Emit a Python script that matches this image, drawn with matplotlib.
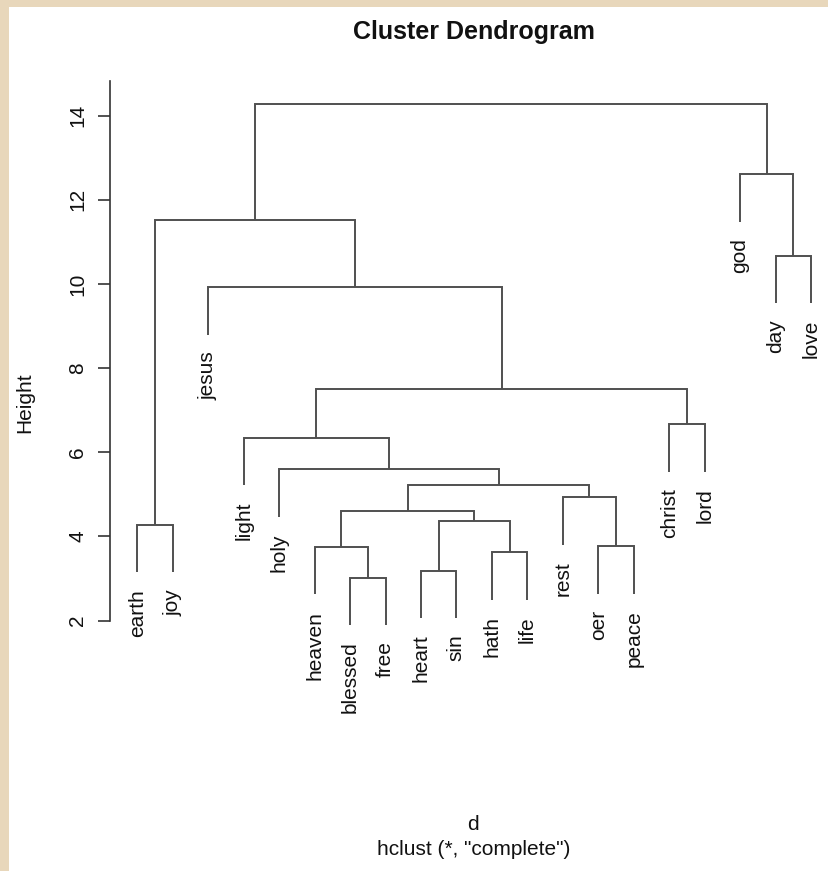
import matplotlib
matplotlib.use("Agg")
import matplotlib.pyplot as plt
from matplotlib.patches import Rectangle
from matplotlib.transforms import offset_copy

# ---- data ----
labels = ["earth", "joy", "jesus", "light", "holy", "heaven", "blessed", "free",
          "heart", "sin", "hath", "life", "rest", "oer", "peace", "christ",
          "lord", "god", "day", "love"]
# R-style merge matrix: negative = leaf (1-based position in labels), positive = earlier merge step
merge_left = [-7, -9, -11, -6, -14, -1, 2, 4, -13, 8, -5, -4, -16, 12, -3, -19, 6, -18, 17]
merge_right = [-8, -10, -12, 1, -15, -2, 3, 7, 5, 9, 10, 11, -17, 13, 14, -20, 15, 16, 18]
heights = [3.02, 3.18, 3.62, 3.75, 3.76, 4.27, 4.37, 4.60, 4.93, 5.22, 5.59, 6.34,
           6.66, 7.51, 9.92, 10.67, 11.52, 12.60, 14.27]
hang = 0.1
yticks = [2, 4, 6, 8, 10, 12, 14]

title = "Cluster Dendrogram"
xlab = "d"
sublab = 'hclust (*, "complete")'
ylab = "Height"

# ---- figure ----
W, H = 829, 871
plt.rcParams["font.family"] = ["Liberation Sans", "DejaVu Sans"]
fig = plt.figure(figsize=(W / 100, H / 100), dpi=100)
fig.patch.set_facecolor("#E8D7BB")
fig.add_artist(Rectangle((9 / W, 0), 1 - 9 / W, 1 - 7 / H, transform=fig.transFigure,
                         facecolor="white", edgecolor="none", zorder=0))

# pixel layout of the plot region
left_px, right_px = 110.35, 837.95
top_px, bottom_px = 81.5, 723.5
ax = fig.add_axes([left_px / W, 1 - bottom_px / H, (right_px - left_px) / W,
                   (bottom_px - top_px) / H])
ax.patch.set_alpha(0)
ax.set_xlim(0.24, 20.76)
ax.set_ylim(2 - (bottom_px - 620.5) / 42.08, 2 + (620.5 - top_px) / 42.08)

hang_len = hang * (max(heights) - min(heights))
node_x = {}
leaf_bottom = {}

line_col = "#505050"
lw = 1.4


def child(c, h):
    if c < 0:
        x = float(-c)
        y = h - hang_len
        leaf_bottom[-c] = y
        return x, y
    return node_x[c], heights[c - 1]


for k, (l, r, h) in enumerate(zip(merge_left, merge_right, heights), start=1):
    xl, yl = child(l, h)
    xr, yr = child(r, h)
    node_x[k] = (xl + xr) / 2
    ax.plot([xl, xl, xr, xr], [yl, h, h, yr], color=line_col, lw=lw,
            solid_capstyle="butt", solid_joinstyle="miter", clip_on=False)

lab_tr = offset_copy(ax.transData, fig=fig, x=0, y=-16.5, units="dots")
for i, name in enumerate(labels, start=1):
    ax.text(i, leaf_bottom[i], name, rotation=90, ha="center", va="top",
            fontsize=15, color="#111111", transform=lab_tr)

# axes styling (R-like)
for s in ["top", "right", "bottom"]:
    ax.spines[s].set_visible(False)
ax.spines["left"].set_bounds(2, ax.get_ylim()[1])
ax.spines["left"].set_color("#333333")
ax.spines["left"].set_linewidth(1.2)
ax.set_xticks([])
ax.set_yticks(yticks)
ax.set_yticklabels([str(t) for t in yticks], rotation=90, va="center", fontsize=15,
                   color="#111111")
ax.tick_params(axis="y", length=8.6, width=1.2, color="#333333", pad=8)

fig.text(474 / W, 1 - 39.5 / H, title, ha="center", va="baseline", fontsize=18,
         fontweight="bold", color="#111111")
fig.text(473 / W, 1 - 830 / H, xlab, ha="center", va="baseline", fontsize=15,
         color="#111111")
fig.text(474 / W, 1 - 855 / H, sublab, ha="center", va="baseline", fontsize=15,
         color="#111111")
fig.text(25 / W, 1 - 402.5 / H, ylab, ha="center", va="center", rotation=90,
         fontsize=15, color="#111111")

fig.savefig("out.png", dpi=100, facecolor=fig.get_facecolor())
